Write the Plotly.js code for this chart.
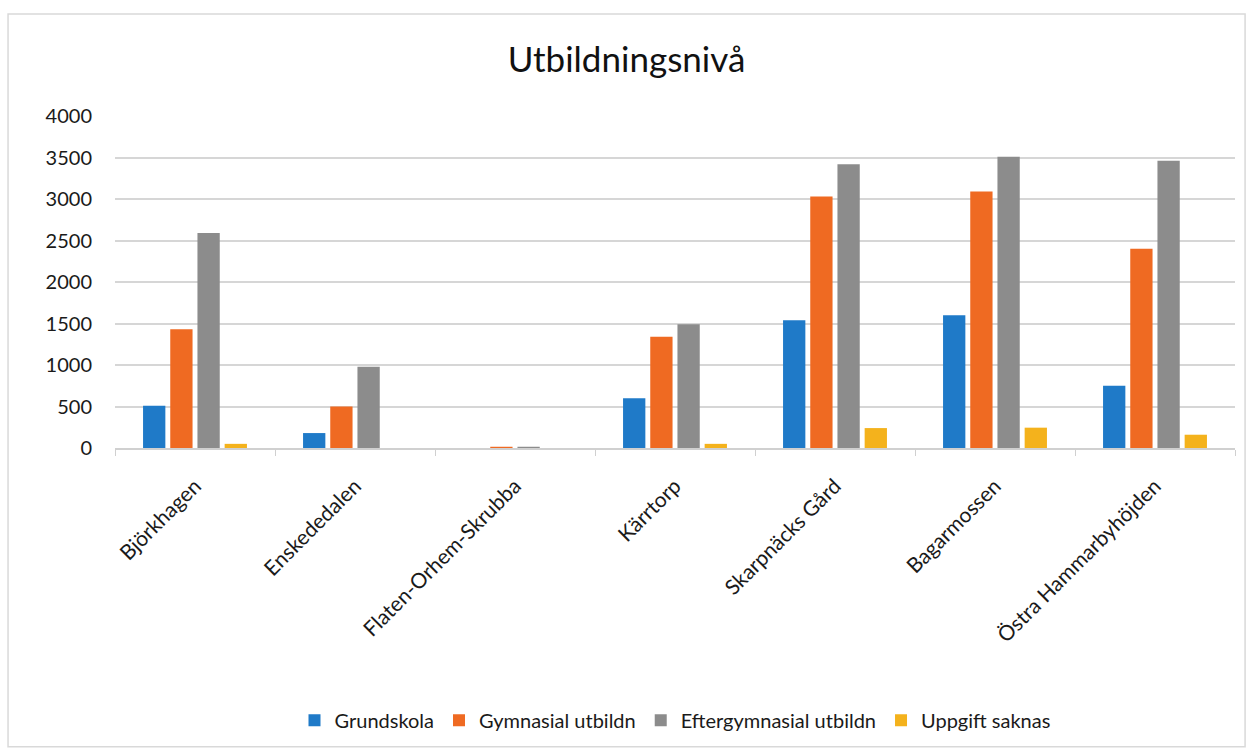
<!DOCTYPE html>
<html>
<head>
<meta charset="utf-8">
<script src="https://cdn.plot.ly/plotly-3.0.1.min.js"></script>
<style>html,body{margin:0;padding:0;background:#fff;} #chart{width:1253px;height:752px;}</style>
</head>
<body>
<div id="chart"></div>
<script>
const categories = ["Björkhagen", "Enskededalen", "Flaten-Orhem-Skrubba", "Kärrtorp", "Skarpnäcks Gård", "Bagarmossen", "Östra Hammarbyhöjden"];
const grundskola = [510, 180, 0, 600, 1540, 1600, 750];
const gymnasial = [1430, 500, 15, 1340, 3030, 3090, 2400];
const eftergymnasial = [2590, 980, 15, 1490, 3420, 3510, 3460];
const uppgiftSaknas = [50, 0, 0, 50, 240, 245, 160];
const seriesNames = ["Grundskola", "Gymnasial utbildn", "Eftergymnasial utbildn", "Uppgift saknas"];
const seriesColors = ["#1f7ac8", "#ef6a22", "#8c8c8c", "#f4b21c"];
const yTicks = [0, 500, 1000, 1500, 2000, 2500, 3000, 3500, 4000];

const values = [grundskola, gymnasial, eftergymnasial, uppgiftSaknas];
const traces = values.map((v, i) => ({
  type: "bar",
  name: seriesNames[i],
  x: categories,
  y: v,
  marker: {color: seriesColors[i]}
}));

const layout = {
  width: 1253, height: 752,
  margin: {l: 115, r: 18, t: 116, b: 304},
  paper_bgcolor: "#ffffff", plot_bgcolor: "#ffffff",
  font: {family: "Lato, 'Open Sans', sans-serif", color: "#1a1a1a", size: 20},
  title: {text: "Utbildningsnivå", x: 0.5, xanchor: "center", y: 0.92, yanchor: "middle",
          font: {size: 35, color: "#111", family: "Lato, 'Open Sans', sans-serif"}},
  barmode: "group",
  bargap: 0.32,
  bargroupgap: 0.18,
  showlegend: true,
  legend: {orientation: "h", x: 0.5, xanchor: "center", y: -0.82, yanchor: "middle",
           font: {size: 20, color: "#1a1a1a"}, traceorder: "normal", itemwidth: 30},
  xaxis: {
    type: "category", tickangle: -45, showgrid: false,
    showline: true, linecolor: "#d0d0d0", linewidth: 1.5,
    ticks: "outside", tickson: "boundaries", ticklen: 6, tickcolor: "#d0d0d0",
    tickfont: {size: 21, color: "#1a1a1a"}, ticklabelstandoff: 16
  },
  yaxis: {
    range: [0, 4000], tickvals: yTicks, ticktext: yTicks.map(String),
    showgrid: true, gridcolor: "#d6d6d6", gridwidth: 2,
    zeroline: false, showline: false, ticks: "",
    tickfont: {size: 20, color: "#1a1a1a"}, ticklabelstandoff: 22
  },
  shapes: [{
    type: "rect", xref: "paper", yref: "paper",
    x0: -0.0955, x1: 1.009, y0: -0.9, y1: 1.307,
    line: {color: "#d9d9d9", width: 1.5}, fillcolor: "rgba(0,0,0,0)", layer: "below"
  }]
};

Plotly.newPlot("chart", traces, layout, {displayModeBar: false, staticPlot: true});
</script>
</body>
</html>
